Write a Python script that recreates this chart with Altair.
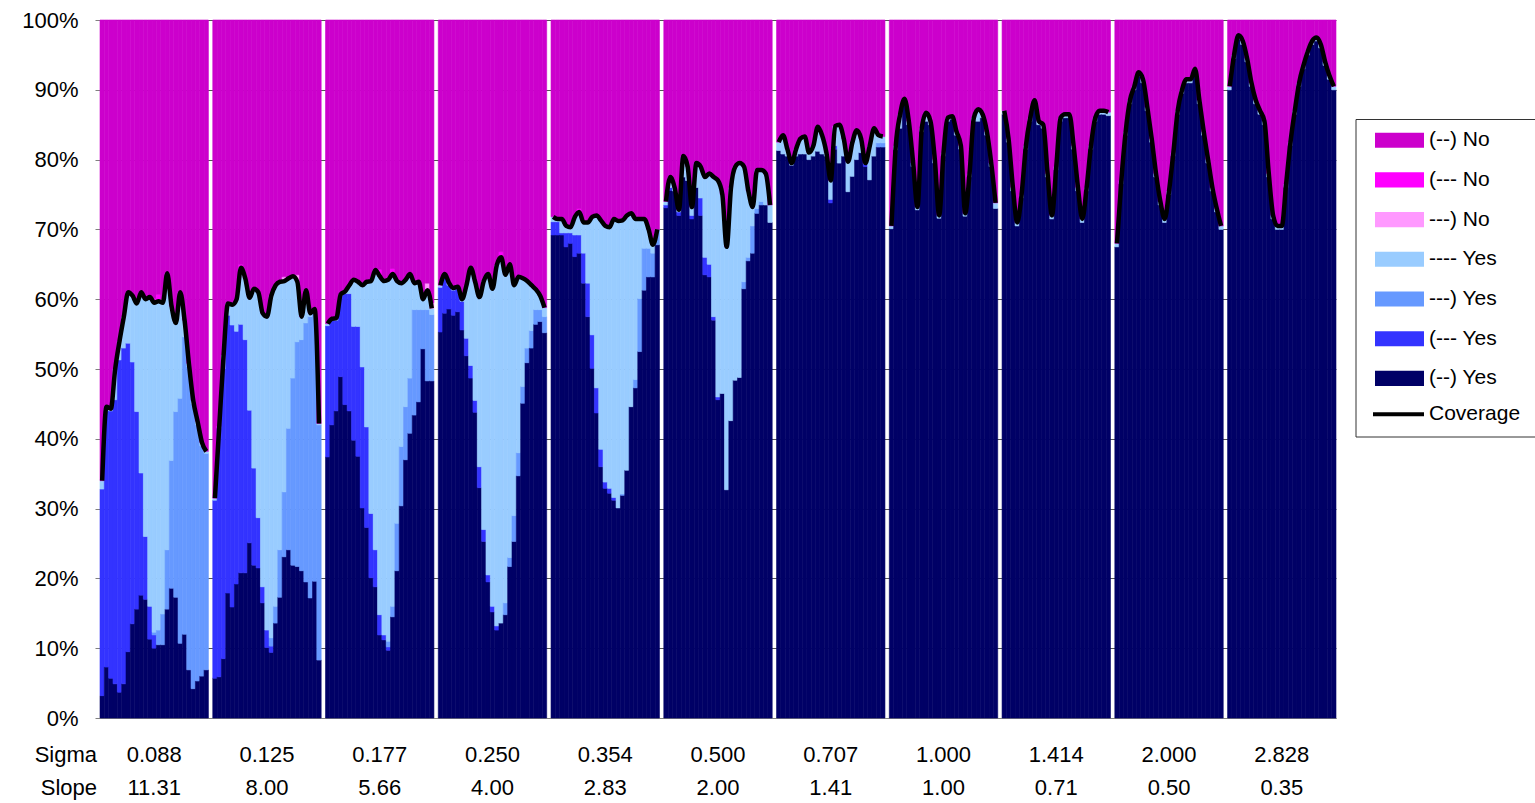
import altair as alt
import pandas as pd

FONT = "Liberation Sans"

SIGMA = ["0.088", "0.125", "0.177", "0.250", "0.354", "0.500", "0.707", "1.000", "1.414", "2.000", "2.828"]
SLOPE = ["11.31", "8.00", "5.66", "4.00", "2.83", "2.00", "1.41", "1.00", "0.71", "0.50", "0.35"]

# stacking order, bottom -> top
STACK = ["(--) Yes", "(--- Yes", "---) Yes", "---- Yes", "---) No", "(--- No", "(--) No"]
COLORS = ["#000066", "#3333FF", "#6699FF", "#99CCFF", "#FF99FF", "#FF00FF", "#CC00CC"]
LEGEND = ["(--) No", "(--- No", "---) No", "---- Yes", "---) Yes", "(--- Yes", "(--) Yes"]

# (--) Yes
YES_BOTH = [
    [3.2, 7.3, 5.7, 4.9, 3.7, 4.9, 9.5, 13.5, 15.6, 17.6, 17.0, 11.3, 10.0, 10.5, 10.5, 15.6, 18.6, 17.3, 10.7, 12.0, 6.9, 4.2, 5.3, 6.0, 6.9],
    [5.7, 5.9, 8.5, 17.9, 15.9, 19.2, 20.8, 20.8, 25.1, 21.9, 21.5, 16.5, 10.1, 9.4, 13.6, 17.3, 23.1, 24.1, 21.9, 21.7, 21.1, 19.5, 17.2, 19.6, 8.3],
    [37.4, 42.0, 44.0, 48.9, 44.9, 44.0, 39.8, 37.5, 30.1, 27.3, 20.1, 18.8, 11.9, 11.2, 9.7, 14.5, 21.1, 30.4, 37.0, 40.8, 43.4, 45.3, 52.9, 48.3, 48.3],
    [55.3, 58.0, 58.6, 57.7, 58.2, 55.6, 51.9, 48.7, 43.8, 33.0, 25.3, 19.5, 15.2, 12.6, 13.6, 14.8, 21.7, 25.3, 34.7, 45.1, 50.9, 53.0, 56.4, 56.8, 55.2],
    [69.2, 69.2, 69.2, 67.5, 68.0, 66.1, 66.6, 62.3, 57.5, 50.1, 43.7, 36.0, 32.9, 32.2, 31.2, 30.1, 31.9, 35.5, 44.6, 47.3, 52.5, 61.3, 63.2, 63.2, 67.8],
    [73.1, 75.6, 75.5, 72.0, 77.5, 77.0, 71.5, 76.0, 72.0, 63.5, 63.2, 57.0, 45.6, 46.5, 32.7, 42.6, 48.4, 48.8, 61.5, 65.5, 66.6, 72.3, 73.5, 73.5, 71.0],
    [81.3, 80.8, 80.5, 79.2, 80.5, 80.8, 80.8, 80.0, 80.5, 81.2, 80.8, 80.5, 73.8, 81.5, 79.5, 80.5, 75.4, 77.6, 80.0, 81.0, 79.0, 77.1, 80.5, 81.8, 81.8],
    [70.1, 81.4, 84.5, 88.0, 85.0, 79.0, 72.8, 84.0, 85.5, 85.0, 79.5, 71.6, 80.5, 85.5, 85.8, 83.5, 81.5, 71.9, 77.5, 85.5, 85.5, 86.0, 83.5, 79.0, 73.0],
    [86.5, 82.5, 75.5, 70.5, 74.5, 81.5, 85.5, 88.0, 85.0, 84.5, 77.5, 71.5, 78.5, 85.5, 86.0, 86.0, 81.5, 75.5, 71.0, 75.5, 81.5, 85.5, 86.5, 86.5, 86.3],
    [67.5, 76.5, 83.5, 88.0, 90.0, 92.0, 91.0, 87.0, 82.5, 77.5, 73.5, 71.0, 75.0, 80.5, 86.5, 89.5, 91.0, 91.0, 92.5, 88.0, 83.5, 79.5, 75.5, 72.5, 70.0],
    [90.0, 94.5, 97.3, 96.5, 94.0, 90.5, 88.0, 86.5, 85.0, 77.5, 71.5, 70.0, 70.0, 76.0, 82.0, 86.5, 90.5, 93.0, 95.0, 96.5, 97.0, 96.0, 93.5, 91.5, 90.0],
]

# (--- Yes
YES_LEFT = [
    [29.6, 36.7, 38.3, 40.7, 47.6, 48.1, 44.2, 37.5, 28.3, 17.5, 9.0, 4.7, 1.9] + [0] * 12,
    [25.5, 35.6, 41.5, 39.8, 40.4, 36.2, 35.6, 33.4, 19.0, 13.9, 7.2, 2.3, 2.5, 0.9] + [0] * 11,
    [18.8, 15.0, 13.0, 11.6, 15.9, 16.8, 16.3, 18.6, 20.2, 14.4, 9.2, 5.3, 2.9, 0.7, 0.5] + [0] * 10,
    [6.4, 5.3, 3.4, 3.6, 3.3, 4.1, 2.5, 1.8, 1.7, 3.0, 1.7, 1.0, 0.8, 0.6] + [0] * 11,
    [1.9, 1.9, 0.3, 2.0, 1.5, 3.1, 2.6, 4.3, 4.8, 4.8, 3.6, 2.5, 0.9, 0.7, 0.4] + [0] * 10,
    [0.4, 0.4, 0, 0.5, 0, 0, 0.5, 0, 2.5, 2.5, 1.8, 0.5, 0.4] + [0] * 12,
    [0] * 12 + [0.5, 0.5] + [0] * 6 + [0.4] + [0] * 4,
    [0] * 25,
    [0] * 25,
    [0] * 25,
    [0] * 25,
]

# ---) Yes
YES_RIGHT = [
    [0] * 12 + [0.4, 2.1, 4.4, 8.5, 18.3, 26.6, 35.1, 42.6, 43.4, 40.8, 36.7, 33.0, 31.0],
    [0] * 13 + [1.2, 2.4, 6.8, 9.3, 17.4, 26.8, 32.2, 33.1, 37.1, 40.3, 38.4, 33.7],
    [0] * 14 + [0.8, 1.5, 6.8, 8.5, 7.6, 7.9, 15.1, 13.2, 5.6, 10.2, 9.5],
    [0] * 15 + [1.7, 1.3, 3.7, 3.3, 2.4, 2.1, 2.5, 2.1, 1.7, 2.3],
    [0] * 16 + [0.2, 0, 0, 1.2, 7.6, 6.0, 4.1, 3.4, 2.1],
    [0] * 18 + [1.0, 0.5, 3.9, 0.7, 0.5, 0, 0],
    [0] * 23 + [0.6, 0.6],
    [0] * 25,
    [0] * 25,
    [0] * 25,
    [0] * 25,
]

# ---- Yes
YES_NONE = [
    [1.2, 0.6, 0.3, 4.4, 2.7, 4.5, 7.3, 9.5, 15.5, 25.9, 34.0, 44.3, 47.2, 47.1, 44.6, 39.6, 22.1, 12.7, 15.2, 2.4, 0.5, 0.5, 0.5, 0.5, 0.3],
    [0.3, 0.3, 2.0, 1.7, 2.9, 4.6, 8.1, 8.8, 16.1, 25.7, 32.3, 39.2, 44.9, 49.0, 46.0, 38.4, 30.2, 21.5, 14.6, 8.6, 3.3, 4.7, 0.5, 0.6, 0.2],
    [0.3, 0.2, 0.3, 0.2, 0.3, 1.2, 6.7, 6.4, 11.7, 20.8, 33.3, 40.1, 48.5, 50.7, 51.8, 47.6, 34.7, 23.4, 18.2, 14.9, 3.8, 4.0, 1.5, 2.8, 0.9],
    [0.3, 0.3, 0.3, 0.3, 0.3, 0.3, 7.6, 14.0, 17.0, 24.3, 35.6, 43.1, 45.5, 51.7, 52.4, 47.0, 42.0, 33.0, 25.2, 15.5, 9.6, 6.5, 2.9, 2.0, 1.3],
    [0.7, 0.4, 2.0, 1.0, 0.8, 2.6, 3.3, 4.4, 8.7, 16.9, 24.7, 32.8, 36.7, 37.4, 39.9, 41.1, 39.2, 36.5, 27.7, 23.0, 11.4, 4.2, 2.7, 1.2, 0.1],
    [0.5, 1.5, 0.5, 0.3, 3.0, 2.0, 1.2, 3.5, 4.5, 11.5, 13.0, 20.0, 31.0, 28.5, 34.8, 33.4, 30.6, 30.7, 16.5, 9.5, 2.7, 5.5, 4.5, 4.5, 2.5],
    [1.2, 2.7, 1.0, 0.3, 1.0, 2.2, 2.5, 1.0, 1.5, 3.5, 2.7, 0.5, 2.7, 2.8, 5.5, 2.5, 4.3, 4.9, 4.2, 2.0, 0.1, 4.9, 4.0, 1.1, 0.9],
    [0.4, 0.6, 2.0, 0.7, 0.5, 0.5, 0.4, 0.5, 1.2, 0.5, 0.5, 0.4, 0.5, 0.5, 0.4, 0.5, 0.5, 0.4, 0.5, 0.5, 1.7, 0.5, 0.5, 0.5, 0.8],
    [0.5] * 25,
    [0.5] * 25,
    [0.5] * 25,
]

# ---) No
NO_RIGHT = [
    [0] * 14 + [0.5] + [0] * 10,
    [0] * 16 + [0.6, 0, 0, 1.0] + [0] * 5,
    [0] * 23 + [1.0, 0.8],
    [0] * 15 + [0.6] + [0] * 9,
    [0] * 25, [0] * 25, [0] * 25, [0] * 25, [0] * 25, [0] * 25, [0] * 25,
]

# (--- No
NO_LEFT = [
    [0] * 12 + [0.6, 1.0] + [0] * 11,
    [0] * 6 + [0.5] + [0] * 18,
    [0] * 12 + [1.0, 0, 0, 0.8] + [0] * 9,
    [0] * 8 + [0.6] + [0] * 5 + [0.8] + [0] * 10,
    [0] * 6 + [0.5] + [0] * 18,
    [0] * 25, [0] * 25, [0] * 25, [0] * 25, [0] * 25, [0] * 25,
]

# (--) No
NO_BOTH = [
    [66.0, 55.4, 55.7, 50.0, 46.0, 42.5, 39.0, 39.5, 40.6, 39.0, 40.0, 39.7, 39.9, 39.3, 40.0, 36.3, 41.0, 43.4, 39.0, 43.0, 49.2, 54.5, 57.5, 60.5, 61.8],
    [68.5, 58.2, 48.0, 40.6, 40.8, 40.0, 35.0, 37.0, 39.8, 38.5, 39.0, 42.0, 42.5, 39.5, 38.0, 37.5, 36.8, 37.0, 36.7, 36.5, 42.5, 38.7, 42.0, 41.4, 57.8],
    [43.5, 42.8, 42.7, 39.3, 38.9, 38.0, 37.2, 37.5, 38.0, 37.5, 37.4, 35.8, 35.7, 37.4, 37.2, 35.6, 37.4, 37.7, 37.2, 36.4, 37.7, 37.5, 40.0, 37.7, 40.5],
    [38.0, 36.4, 37.7, 38.4, 38.2, 40.0, 38.0, 35.5, 36.9, 39.7, 37.4, 36.4, 38.5, 35.1, 33.2, 35.9, 35.0, 38.0, 36.8, 37.0, 37.4, 38.0, 38.6, 39.5, 41.2],
    [28.2, 28.5, 28.5, 29.5, 29.7, 28.2, 27.0, 29.0, 29.0, 28.2, 28.0, 28.7, 29.5, 29.7, 28.5, 28.8, 28.7, 28.0, 27.7, 28.5, 28.5, 28.5, 30.0, 32.2, 30.0],
    [26.0, 22.5, 24.0, 27.2, 19.5, 21.0, 26.8, 20.5, 21.0, 22.5, 22.0, 22.5, 23.0, 25.0, 32.5, 24.0, 21.0, 20.5, 21.0, 24.5, 26.8, 21.5, 21.5, 22.0, 26.5],
    [17.5, 16.5, 18.5, 20.5, 18.5, 17.0, 16.7, 19.0, 18.0, 15.3, 16.5, 19.0, 23.0, 15.2, 15.0, 17.0, 20.3, 17.5, 15.8, 17.0, 20.5, 18.0, 15.5, 16.5, 16.7],
    [29.5, 18.0, 13.5, 11.3, 14.5, 20.5, 26.8, 15.5, 13.3, 14.5, 20.0, 28.0, 19.0, 14.0, 13.8, 16.0, 18.0, 27.7, 22.0, 14.0, 12.8, 13.5, 16.0, 20.5, 26.2],
    [13.0, 17.0, 24.0, 29.0, 25.0, 18.0, 14.0, 11.5, 14.5, 15.0, 22.0, 28.0, 21.0, 14.0, 13.5, 13.5, 18.0, 24.0, 28.5, 24.0, 18.0, 14.0, 13.0, 13.0, 13.2],
    [32.0, 23.0, 16.0, 11.5, 9.5, 7.5, 8.5, 12.5, 17.0, 22.0, 26.0, 28.5, 24.5, 19.0, 13.0, 10.0, 8.5, 8.5, 7.0, 11.5, 16.0, 20.0, 24.0, 27.0, 29.5],
    [9.5, 5.0, 2.2, 3.0, 5.5, 9.0, 11.5, 13.0, 14.5, 22.0, 28.0, 29.5, 29.5, 23.5, 17.5, 13.0, 9.0, 6.5, 4.5, 3.0, 2.5, 3.5, 6.0, 8.0, 9.5],
]

# Coverage (total Yes)
COVERAGE = [
    [34.0, 44.6, 44.3, 50.0, 54.0, 57.5, 61.0, 60.5, 59.4, 61.0, 60.0, 60.3, 59.5, 59.7, 59.5, 63.7, 59.0, 56.6, 61.0, 57.0, 50.8, 45.5, 42.5, 39.5, 38.2],
    [31.5, 41.8, 52.0, 59.4, 59.2, 60.0, 64.5, 63.0, 60.2, 61.5, 61.0, 58.0, 57.5, 60.5, 62.0, 62.5, 62.6, 63.0, 63.3, 62.5, 57.5, 61.3, 58.0, 58.6, 42.2],
    [56.5, 57.2, 57.3, 60.7, 61.1, 62.0, 62.8, 62.5, 62.0, 62.5, 62.6, 64.2, 63.3, 62.6, 62.8, 63.6, 62.6, 62.3, 62.8, 63.6, 62.3, 62.5, 60.0, 61.3, 58.7],
    [62.0, 63.6, 62.3, 61.6, 61.8, 60.0, 62.0, 64.5, 62.5, 60.3, 62.6, 63.6, 61.5, 64.9, 66.0, 63.5, 65.0, 62.0, 63.2, 63.0, 62.6, 62.0, 61.4, 60.5, 58.8],
    [71.8, 71.5, 71.5, 70.5, 70.3, 71.8, 72.5, 71.0, 71.0, 71.8, 72.0, 71.3, 70.5, 70.3, 71.5, 71.2, 71.3, 72.0, 72.3, 71.5, 71.5, 71.5, 70.0, 67.8, 70.0],
    [74.0, 77.5, 76.0, 72.8, 80.5, 79.0, 73.2, 79.5, 79.0, 77.5, 78.0, 77.5, 77.0, 75.0, 67.5, 76.0, 79.0, 79.5, 79.0, 75.5, 73.2, 78.5, 78.5, 78.0, 73.5],
    [82.5, 83.5, 81.5, 79.5, 81.5, 83.0, 83.3, 81.0, 82.0, 84.7, 83.5, 81.0, 77.0, 84.8, 85.0, 83.0, 79.7, 82.5, 84.2, 83.0, 79.5, 82.0, 84.5, 83.5, 83.3],
    [70.5, 82.0, 86.5, 88.7, 85.5, 79.5, 73.2, 84.5, 86.7, 85.5, 80.0, 72.0, 81.0, 86.0, 86.2, 84.0, 82.0, 72.3, 78.0, 86.0, 87.2, 86.5, 84.0, 79.5, 73.8],
    [87.0, 83.0, 76.0, 71.0, 75.0, 82.0, 86.0, 88.5, 85.5, 85.0, 78.0, 72.0, 79.0, 86.0, 86.5, 86.5, 82.0, 76.0, 71.5, 76.0, 82.0, 86.0, 87.0, 87.0, 86.8],
    [68.0, 77.0, 84.0, 88.5, 90.5, 92.5, 91.5, 87.5, 83.0, 78.0, 74.0, 71.5, 75.5, 81.0, 87.0, 90.0, 91.5, 91.5, 93.0, 88.5, 84.0, 80.0, 76.0, 73.0, 70.5],
    [90.5, 95.0, 97.8, 97.0, 94.5, 91.0, 88.5, 87.0, 85.5, 78.0, 72.0, 70.5, 70.5, 76.5, 82.5, 87.0, 91.0, 93.5, 95.5, 97.0, 97.5, 96.5, 94.0, 92.0, 90.5],
]

SERIES_DATA = [YES_BOTH, YES_LEFT, YES_RIGHT, YES_NONE, NO_RIGHT, NO_LEFT, NO_BOTH]
N_COLS = 25          # columns per sigma group
GROUP_STEP = 26      # one empty category between groups
N_CATS = len(SIGMA) * GROUP_STEP - 1

# ---- tables ----
bar_rows, cov_rows = [], []
for p in range(len(SIGMA)):
    for k in range(N_COLS):
        x0 = p * GROUP_STEP + k
        for s, arr in enumerate(SERIES_DATA):
            bar_rows.append({"panel": p, "x0": x0, "x1": x0 + 1, "series": STACK[s],
                             "order": s, "value": arr[p][k]})
        cov_rows.append({"panel": p, "xc": x0 + 0.5, "cov": COVERAGE[p][k]})
bar_df = pd.DataFrame(bar_rows)
cov_df = pd.DataFrame(cov_rows)
lab_df = pd.DataFrame({"xc": [p * GROUP_STEP + N_COLS / 2 for p in range(len(SIGMA))],
                       "sigma": SIGMA, "slope": SLOPE})
leg_labels = LEGEND + ["Coverage"]
leg_pos = list(range(len(LEGEND))) + [len(LEGEND) - 0.1]
leg_df = pd.DataFrame({"label": leg_labels, "series": LEGEND + [""], "pos": leg_pos})
leg_df["lo"] = leg_df["pos"] - 0.19
leg_df["hi"] = leg_df["pos"] + 0.19

# ---- scales / axes ----
W, H = 1236, 698
x_scale = alt.Scale(domain=[0, N_CATS], nice=False, zero=False)
y_scale = alt.Scale(domain=[0, 100], nice=False, clamp=True)
color_scale = alt.Scale(domain=STACK, range=COLORS)
leg_scale = alt.Scale(domain=[0, 7], range=[120.2, 398.1])
x_axis = alt.Axis(labels=False, ticks=False, grid=False, domainColor="#808080", title=None)
y_axis = alt.Axis(values=list(range(0, 101, 10)), labelExpr="datum.value + '%'",
                  grid=True, gridColor="#555555", gridWidth=1,
                  domainColor="#808080", tickColor="#808080", tickSize=5,
                  labelFont=FONT, labelFontSize=22, labelColor="black", labelPadding=17,
                  title=None)

bars = alt.Chart(bar_df).transform_filter("datum.value > 0").transform_stack(
    stack="value", groupby=["x0"], as_=["y0", "y1"],
    sort=[alt.SortField(field="order", order="ascending")]
).mark_rect(strokeWidth=0.6).encode(
    x=alt.X("x0:Q", scale=x_scale, axis=x_axis),
    x2="x1:Q",
    y=alt.Y("y0:Q", scale=y_scale, axis=y_axis),
    y2="y1:Q",
    color=alt.Color("series:N", scale=color_scale, legend=None),
    stroke=alt.Stroke("series:N", scale=color_scale, legend=None),
)

line = alt.Chart(cov_df).mark_line(color="black", strokeWidth=4.5, interpolate="monotone",
                                   strokeJoin="round").encode(
    x=alt.X("xc:Q", scale=x_scale, axis=x_axis),
    y=alt.Y("cov:Q", scale=y_scale, axis=None),
    detail="panel:N",
)

sig_txt = alt.Chart(lab_df).mark_text(font=FONT, fontSize=22, baseline="middle", color="black").encode(
    x=alt.X("xc:Q", scale=x_scale, axis=x_axis), y=alt.value(735), text="sigma:N")
slp_txt = alt.Chart(lab_df).mark_text(font=FONT, fontSize=22, baseline="middle", color="black").encode(
    x=alt.X("xc:Q", scale=x_scale, axis=x_axis), y=alt.value(768), text="slope:N")
row_df = pd.DataFrame({"t": ["Sigma", "Slope"], "row": [0, 1]})
sig_title = alt.Chart(row_df).transform_filter("datum.row == 0").mark_text(
    font=FONT, fontSize=22, baseline="middle", align="right", color="black").encode(
    x=alt.value(-3), y=alt.value(735), text="t:N")
slp_title = alt.Chart(row_df).transform_filter("datum.row == 1").mark_text(
    font=FONT, fontSize=22, baseline="middle", align="right", color="black").encode(
    x=alt.value(-3), y=alt.value(768), text="t:N")

# ---- legend ----
box = alt.Chart(pd.DataFrame({"b": [0]})).mark_rect(fill="white", stroke="#333333", strokeWidth=1).encode(
    x=alt.value(1256), x2=alt.value(1440), y=alt.value(99.5), y2=alt.value(417))
leg_rects = alt.Chart(leg_df).transform_filter("datum.series != ''").mark_rect().encode(
    x=alt.value(1275), x2=alt.value(1324),
    y=alt.Y("lo:Q", scale=leg_scale, axis=None), y2="hi:Q",
    color=alt.Color("series:N", scale=color_scale, legend=None))
leg_line = alt.Chart(leg_df).transform_filter("datum.series == ''").mark_rule(
    color="black", strokeWidth=4).encode(
    x=alt.value(1273), x2=alt.value(1324), y=alt.Y("pos:Q", scale=leg_scale, axis=None))
leg_text = alt.Chart(leg_df).mark_text(font=FONT, fontSize=21, align="left", baseline="middle",
                                       color="black").encode(
    x=alt.value(1329), y=alt.Y("pos:Q", scale=leg_scale, axis=None), text="label:N")

chart = alt.layer(
    bars, line, sig_txt, slp_txt, sig_title, slp_title, box, leg_rects, leg_line, leg_text
).resolve_scale(y="independent").properties(
    width=W, height=H,
    padding={"left": 100, "top": 20, "right": 199, "bottom": 85},
    autosize=alt.AutoSizeParams(type="none"),
).configure_view(strokeWidth=0)

chart.save("out.html", embed_options={"renderer": "svg", "actions": False})
